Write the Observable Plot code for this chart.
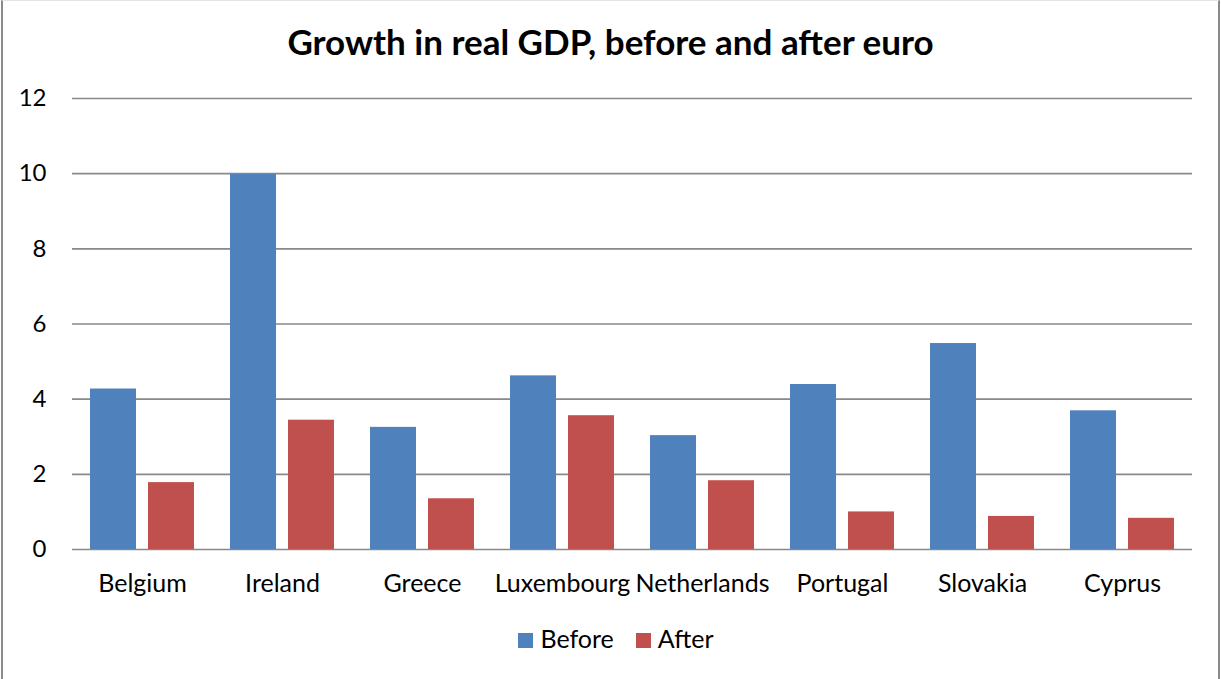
<!DOCTYPE html>
<html>
<head>
<meta charset="utf-8">
<script src="https://cdn.jsdelivr.net/npm/d3@7"></script>
<script src="https://cdn.jsdelivr.net/npm/@observablehq/plot@0.6"></script>
<style>
  html, body { margin: 0; padding: 0; background: #fff; }
  #frame { position: relative; width: 1221px; height: 679px; overflow: hidden; background: #fff; font-family: Lato, "Open Sans", sans-serif; }
  #border { position: absolute; left: 1px; top: 0; width: 1219px; height: 700px; border-left: 2px solid #8a8a8a; border-right: 2px solid #8a8a8a; border-top: 1px solid #e4e4e4; box-sizing: border-box; }
  #title { position: absolute; left: 0; top: 24px; width: 1221px; text-align: center; font-weight: bold; font-size: 35px; line-height: 35px; color: #000; }
  #chart { position: absolute; left: 0; top: 0; }
  #legend { position: absolute; left: 0; top: 626px; width: 1232px; text-align: center; font-size: 25px; line-height: 25px; color: #000; }
  .sw { display: inline-block; width: 15px; height: 15px; margin-right: 7px; vertical-align: 0; }
  .item { display: inline-block; margin: 0 11px; }
</style>
</head>
<body>
<div id="frame">
  <div id="border"></div>
  <div id="title">Growth in real GDP, before and after euro</div>
  <div id="chart"></div>
  <div id="legend"></div>
</div>
<script>
const countries = ["Belgium", "Ireland", "Greece", "Luxembourg", "Netherlands", "Portugal", "Slovakia", "Cyprus"];
const seriesNames = ["Before", "After"];
const before = [4.27, 9.98, 3.25, 4.62, 3.03, 4.39, 5.48, 3.69];
const after = [1.78, 3.44, 1.35, 3.56, 1.83, 1.0, 0.88, 0.83];
const yTicks = [0, 2, 4, 6, 8, 10, 12];
const colors = ["#4F81BD", "#C0504D"];

const data = countries.flatMap((c, i) => [
  {country: c, series: "Before", value: before[i]},
  {country: c, series: "After", value: after[i]}
]);

const chart = Plot.plot({
  width: 1221,
  height: 610,
  marginTop: 98,
  marginBottom: 61,
  marginLeft: 71,
  marginRight: 29,
  style: {fontFamily: "Lato, 'Open Sans', sans-serif", background: "transparent", color: "#000"},
  fx: {domain: countries, padding: 0, label: null},
  x: {domain: seriesNames, paddingInner: 0.203, paddingOuter: 0.288, axis: null},
  y: {domain: [0, 12], label: null},
  color: {domain: seriesNames, range: colors},
  marks: [
    Plot.ruleY(yTicks, {stroke: "#898989", strokeWidth: 1.6}),
    Plot.barY(data, {fx: "country", x: "series", y: "value", fill: "series"}),
    Plot.axisY({ticks: yTicks, tickSize: 0, tickPadding: 26, fontSize: 24, label: null}),
    Plot.axisFx({anchor: "bottom", tickSize: 0, tickPadding: 25, fontSize: 25, label: null})
  ]
});
document.getElementById("chart").appendChild(chart);

const legend = document.getElementById("legend");
seriesNames.forEach((s, i) => {
  const item = document.createElement("span");
  item.className = "item";
  const sw = document.createElement("span");
  sw.className = "sw";
  sw.style.background = colors[i];
  item.appendChild(sw);
  item.appendChild(document.createTextNode(s));
  legend.appendChild(item);
});
</script>
</body>
</html>
